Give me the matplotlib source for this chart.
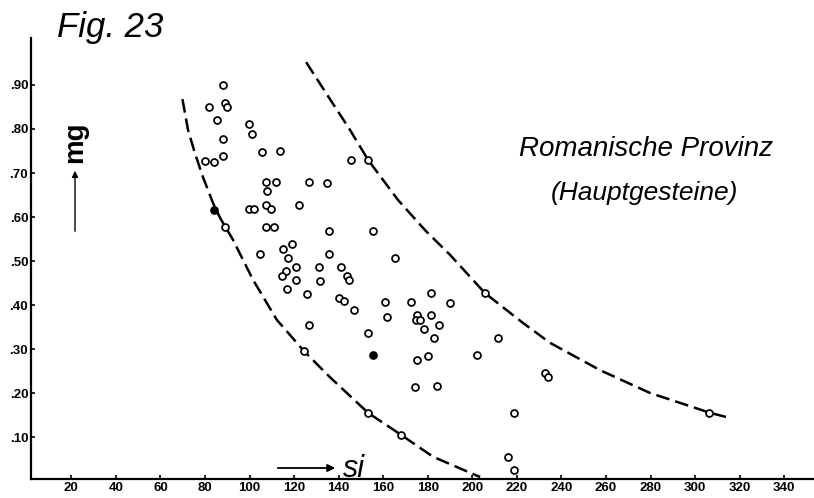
import numpy as np
import matplotlib
matplotlib.use("Agg")
import matplotlib.pyplot as plt

# data (si, mg)
si_open = [88.0, 82.0, 89.0, 90.1, 85.3, 88.0, 80.0, 84.2, 88.0, 99.8,
           100.9, 105.7, 113.7, 107.2, 111.9, 108.0, 99.9, 102.2, 107.2, 109.6,
           122.4, 126.6, 134.6, 145.6, 153.3, 107.2, 110.9, 135.8, 155.6, 104.7,
           115.0, 119.1, 117.5, 135.8, 120.7, 116.5, 114.5, 120.9, 116.7, 131.3,
           131.6, 140.9, 143.9, 144.7, 125.8, 140.2, 142.3, 146.9, 160.7, 161.8,
           126.5, 153.1, 165.2, 172.4, 181.5, 190.1, 175.3, 174.6, 176.7, 181.5,
           185.1, 178.2, 182.9, 180.1, 175.2, 174.3, 184.2, 202.0, 211.7, 205.8,
           232.6, 234.1, 218.8, 216.2, 218.6, 306.4, 89.0, 124.6, 153.3, 168.2]
mg_open = [0.899, 0.849, 0.859, 0.849, 0.820, 0.777, 0.727, 0.726, 0.739, 0.811,
           0.789, 0.748, 0.749, 0.679, 0.679, 0.658, 0.618, 0.618, 0.628, 0.618,
           0.628, 0.679, 0.678, 0.730, 0.730, 0.578, 0.578, 0.569, 0.568, 0.517,
           0.527, 0.538, 0.507, 0.516, 0.486, 0.477, 0.466, 0.456, 0.436, 0.487,
           0.455, 0.486, 0.466, 0.457, 0.425, 0.417, 0.409, 0.389, 0.406, 0.373,
           0.355, 0.336, 0.507, 0.406, 0.427, 0.405, 0.378, 0.366, 0.366, 0.377,
           0.355, 0.345, 0.326, 0.285, 0.275, 0.214, 0.216, 0.286, 0.326, 0.427,
           0.246, 0.236, 0.154, 0.055, 0.025, 0.155, 0.577, 0.296, 0.154, 0.105]

si_filled = [84.2, 155.3]
mg_filled = [0.616, 0.286]

# dashed boundary curves
left_si = [69.9, 72.4, 75.5, 79.1, 83.6, 86.8, 92.6, 101.6, 112.3, 124.5,
           136.1, 153.2, 168.0, 182.4, 203.5]
left_mg = [0.868, 0.798, 0.745, 0.691, 0.632, 0.598, 0.548, 0.457, 0.366, 0.295,
           0.236, 0.155, 0.105, 0.055, 0.009]
right_si = [125.4, 136.1, 145.1, 153.2, 166.6, 178.8, 190.0, 205.7, 222.8, 234.9,
            257.3, 279.8, 306.7, 314.3]
right_mg = [0.952, 0.868, 0.798, 0.730, 0.639, 0.570, 0.514, 0.427, 0.359, 0.314,
            0.252, 0.200, 0.155, 0.145]

xticks = [20, 40, 60, 80, 100, 120, 140, 160, 180, 200, 220, 240, 260, 280, 300, 320, 340]
yticks = [0.1, 0.2, 0.3, 0.4, 0.5, 0.6, 0.7, 0.8, 0.9]
ylabels = [".10", ".20", ".30", ".40", ".50", ".60", ".70", ".80", ".90"]

W, H = 814, 498
fig = plt.figure(figsize=(W / 100, H / 100), dpi=100)
ax = fig.add_axes([31 / W, (H - 479) / H, (W - 31) / W, (479 - 38) / H])

ax.plot(left_si, left_mg, color='k', lw=1.8, dashes=(5.5, 2.4))
ax.plot(right_si, right_mg, color='k', lw=1.8, dashes=(5.5, 2.4))
ax.plot(si_open, mg_open, 'o', ms=5, mfc='white', mec='k', mew=1.25, zorder=3)
ax.plot(si_filled, mg_filled, 'o', ms=5, mfc='k', mec='k', mew=1.25, zorder=3)

ax.set_xlim((31 - 26.7) / 2.228, (W - 26.7) / 2.228)
ax.set_ylim((481 - 479) / 440, (481 - 38) / 440)

for s in ['top', 'right']:
    ax.spines[s].set_visible(False)
ax.spines['left'].set_linewidth(1.6)
ax.spines['bottom'].set_linewidth(1.6)

ax.set_xticks(xticks)
ax.set_xticklabels([str(t) for t in xticks])
ax.set_yticks(yticks)
ax.set_yticklabels(ylabels)
ax.tick_params(axis='both', direction='in', length=3, width=1.2,
               labelsize=9.5, pad=2)
for lab in ax.get_xticklabels() + ax.get_yticklabels():
    lab.set_fontweight('bold')
    lab.set_family('Liberation Sans')

# text
fig.text(57 / W, 1 - 37 / H, "Fig. 23", fontsize=25, style='italic',
         family='Liberation Sans', ha='left', va='baseline')
fig.text(646 / W, 1 - 156 / H, "Romanische Provinz", fontsize=20, style='italic',
         family='Liberation Sans', ha='center', va='baseline')
fig.text(644 / W, 1 - 200 / H, "(Hauptgesteine)", fontsize=19, style='italic',
         family='Liberation Sans', ha='center', va='baseline')
fig.text(75 / W, 1 - 142 / H, "mg", fontsize=20, fontweight='bold', rotation=90,
         family='Liberation Sans', ha='center', va='center')
fig.text(343 / W, 1 - 477 / H, "si", fontsize=22, style='italic',
         family='Liberation Sans', ha='left', va='baseline')

# arrows
fig.add_artist(matplotlib.patches.FancyArrowPatch(
    (275 / W, 1 - 468 / H), (338 / W, 1 - 468 / H), transform=fig.transFigure,
    arrowstyle='-|>', mutation_scale=11, lw=1.3, color='k'))
fig.add_artist(matplotlib.patches.FancyArrowPatch(
    (75 / W, 1 - 234 / H), (75 / W, 1 - 168 / H), transform=fig.transFigure,
    arrowstyle='-|>', mutation_scale=9, lw=1.0, color='k'))

fig.savefig("out.png", dpi=100)
